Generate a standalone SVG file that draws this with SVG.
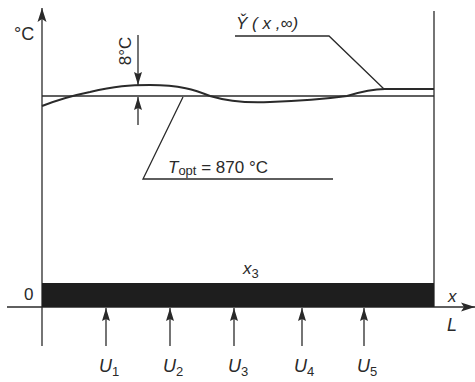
<svg xmlns="http://www.w3.org/2000/svg" width="475" height="382" viewBox="0 0 475 382">
<style>
.ln{stroke:#2a2a2a;stroke-width:1.3;fill:none}
.crv{stroke:#2a2a2a;stroke-width:2;fill:none}
.t{font-family:"Liberation Sans",Arial,sans-serif;fill:#2a2a2a}
.i{font-style:italic}
</style>
<defs>
<marker id="ah" viewBox="0 0 13 8" refX="13" refY="4" markerWidth="13" markerHeight="8" markerUnits="userSpaceOnUse" orient="auto">
<path d="M0,0 L13,4 L0,8 L2,4 Z" fill="#2a2a2a"/>
</marker>
<marker id="ax" viewBox="0 0 14 10" refX="14" refY="5" markerWidth="14" markerHeight="10" markerUnits="userSpaceOnUse" orient="auto">
<path d="M0,0.5 L14,5 L0,9.5 L3,5 Z" fill="#2a2a2a"/>
</marker>
</defs>
<rect width="475" height="382" fill="#fff"/>
<g id="axes">
<line class="ln" x1="42" y1="346" x2="42" y2="8" marker-end="url(#ax)"/>
<line class="ln" x1="7" y1="307" x2="475" y2="307" marker-end="url(#ax)"/>
<line class="ln" x1="434" y1="11" x2="434" y2="307"/>
<text class="t" x="14" y="40" font-size="18">°C</text>
<text class="t" x="24" y="300" font-size="17">0</text>
<text class="t i" x="448" y="302" font-size="17">x</text>
<text class="t i" x="447" y="331" font-size="18">L</text>
</g>
<g id="bar">
<rect x="42" y="283" width="392" height="24" fill="#1e1e1e"/>
<text class="t i" x="243" y="274" font-size="17">x<tspan font-size="13" font-style="normal" dy="4">3</tspan></text>
</g>
<g id="topt-line">
<line class="ln" x1="42" y1="96" x2="434" y2="96"/>
</g>
<g id="curve">
<path class="crv" d="M42,106 C60,99 75,95 90,92 C115,86 130,85 150,85 C180,85 195,90 210,96 C230,102 250,103 270,102 C300,101 325,99 347,96 C360,92 372,89 385,89 L434,89"/>
</g>
<g id="dim8">
<line class="ln" x1="138" y1="35" x2="138" y2="85" marker-end="url(#ah)"/>
<line class="ln" x1="138" y1="125" x2="138" y2="97" marker-end="url(#ah)"/>
<text class="t" transform="translate(131,51) rotate(-90)" text-anchor="middle" font-size="17">8°C</text>
</g>
<g id="label-Y">
<text class="t i" x="236" y="29" font-size="17">Y̌ ( x ,∞)</text>
<polyline class="ln" points="235,36 329,36 384,89"/>
</g>
<g id="label-T">
<text class="t" x="168" y="173" font-size="17"><tspan font-style="italic">T</tspan><tspan font-size="13" dy="2">opt</tspan><tspan dy="-2"> = 870 °C</tspan></text>
<polyline class="ln" points="183,97 143,179 333,179"/>
</g>
<g id="inputs">
<line class="ln" x1="106" y1="346" x2="106" y2="308" marker-end="url(#ah)"/>
<line class="ln" x1="170" y1="346" x2="170" y2="308" marker-end="url(#ah)"/>
<line class="ln" x1="234" y1="346" x2="234" y2="308" marker-end="url(#ah)"/>
<line class="ln" x1="302" y1="346" x2="302" y2="308" marker-end="url(#ah)"/>
<line class="ln" x1="364" y1="346" x2="364" y2="308" marker-end="url(#ah)"/>
<text class="t i" x="99" y="372" font-size="18">U<tspan font-size="13" font-style="normal" dy="4">1</tspan></text>
<text class="t i" x="163" y="372" font-size="18">U<tspan font-size="13" font-style="normal" dy="4">2</tspan></text>
<text class="t i" x="228" y="372" font-size="18">U<tspan font-size="13" font-style="normal" dy="4">3</tspan></text>
<text class="t i" x="294" y="372" font-size="18">U<tspan font-size="13" font-style="normal" dy="4">4</tspan></text>
<text class="t i" x="357" y="372" font-size="18">U<tspan font-size="13" font-style="normal" dy="4">5</tspan></text>
</g>
</svg>
